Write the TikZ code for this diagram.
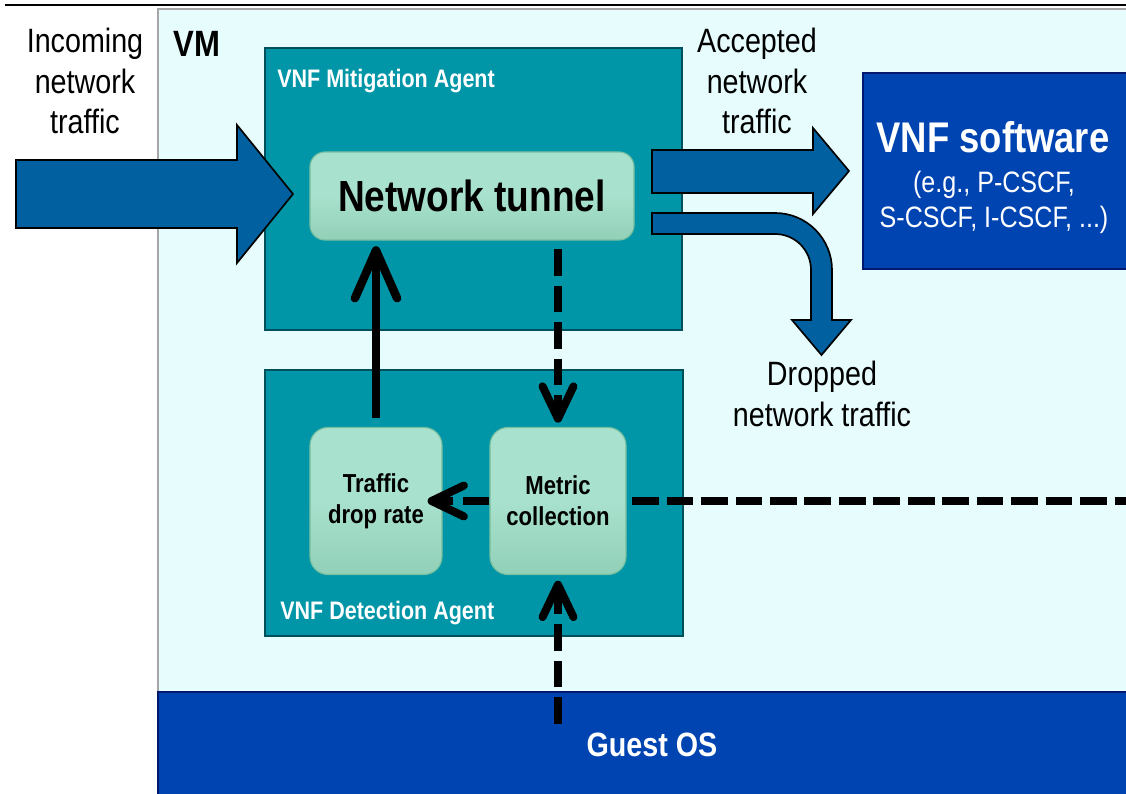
\documentclass[tikz,border=0pt]{standalone}
\usepackage{fontspec}
\setmainfont{Liberation Sans}[FakeStretch=0.85]
\usepackage{tikz}
\usetikzlibrary{arrows.meta,positioning,calc}

\definecolor{vmbg}{RGB}{230,252,253}
\definecolor{agentteal}{RGB}{0,150,167}
\definecolor{agentedge}{RGB}{0,80,92}
\definecolor{mint}{RGB}{168,225,205}
\definecolor{mintdark}{RGB}{146,208,184}
\definecolor{mintedge}{RGB}{120,190,160}
\definecolor{osblue}{RGB}{0,68,178}
\definecolor{osedge}{RGB}{0,25,110}
\definecolor{flowblue}{RGB}{0,96,160}

\begin{document}
\begin{tikzpicture}[x=0.025cm,y=-0.025cm,
    agent/.style={draw=agentedge,line width=1.4pt,fill=agentteal,
      minimum width=10.425cm,minimum height=7.05cm,inner sep=0pt},
    agentlabel/.style={anchor=west,inner sep=0pt,text=white,
      font=\bfseries\fontsize{18}{21}\selectfont},
    tunnelbox/.style={draw=mintedge,line width=0.8pt,rounded corners=0.375cm,
      top color=mint,bottom color=mintdark,middle color=mint,
      minimum width=8.1cm,minimum height=2.2cm,
      font=\bfseries\fontsize{31}{36}\selectfont},
    blockbox/.style={draw=mintedge,line width=0.8pt,rounded corners=0.45cm,
      top color=mint,bottom color=mintdark,middle color=mint,
      minimum height=3.675cm,align=center,inner sep=0pt,
      font=\bfseries\fontsize{18.5}{22}\selectfont},
    osbox/.style={draw=osedge,line width=1.4pt,fill=osblue,text=white,
      font=\bfseries\fontsize{24}{29}\selectfont},
    flow/.style={fill=flowblue,draw=black,line width=1.2pt},
    flowtext/.style={align=center,inner sep=0pt,font=\fontsize{24}{29}\selectfont},
    solidarrow/.style={line width=6pt,
      -{Straight Barb[length=34pt,width=30pt,round]}},
    dasharrow/.style={line width=5.7pt,dash pattern=on 19pt off 7pt,
      -{Straight Barb[length=23pt,width=22pt,round]}},
    dashline/.style={line width=5.7pt,dash pattern=on 19pt off 5.5pt}]
  \path[use as bounding box] (0,0) rectangle (1126,794);
  \clip (0,0) rectangle (1126,794);

  % VM frame
  \fill[vmbg] (158,9) rectangle (1130,797);
  \draw[gray!70,line width=1.4pt] (158,797) -- (158,9) -- (1130,9);
  \draw[line width=1.4pt] (5,5) -- (1130,5);
  \node[anchor=west,inner sep=0pt,font=\bfseries\fontsize{26}{30}\selectfont] (vmlabel) at (173,44) {VM};

  % agents
  \node[agent] (mitig) at (473.5,189) {};
  \node[agent,minimum height=6.65cm] (detect) at (474,503) {};
  \node[agentlabel] (mitiglabel) at (277,81) {VNF Mitigation Agent};
  \node[agentlabel] (detectlabel) at (280,613) {VNF Detection Agent};

  % processing blocks
  \node[tunnelbox] (tunnel) at (472,196) {Network tunnel};
  \node[blockbox,minimum width=3.3cm] (drop) at (376,501) {Traffic\\drop rate};
  \node[blockbox,minimum width=3.4cm] (metric) at (558,501) {Metric\\collection};

  % guest OS and VNF software
  \node[osbox,minimum width=24.7cm,minimum height=2.625cm] (guest) at (652,744.5) {Guest OS};
  \node[osbox,minimum width=6.675cm,minimum height=4.9cm] (vnf) at (996.5,171) {};
  \node[text=white,inner sep=0pt,font=\bfseries\fontsize{30.5}{34}\selectfont] (vnftitle) at (993,137) {VNF software};
  \node[text=white,inner sep=0pt,align=center,font=\fontsize{21}{25}\selectfont] (vnfnote) at (994,202) {(e.g., P-CSCF,\\S-CSCF, I-CSCF, ...)};

  % traffic flows
  \draw[flow] (16,160) -- (237,160) -- (237,125) -- (293,194) -- (237,263) -- (237,228) -- (16,228) -- cycle;
  \draw[flow] (652,150) -- (813,150) -- (813,128) -- (849,171) -- (813,214) -- (813,193) -- (652,193) -- cycle;
  \draw[flow] (652,213) -- (775,213) .. controls (806.5,213) and (832,238.5) .. (832,270)
    -- (832,320) -- (851,320) -- (821.5,355) -- (792,320) -- (811,320) -- (811,270)
    .. controls (811,250) and (795,234) .. (775,234) -- (652,234) -- cycle;
  \node[flowtext] (incoming) at (85,81) {Incoming\\network\\traffic};
  \node[flowtext] (accepted) at (757,81) {Accepted\\network\\traffic};
  \node[flowtext] (dropped) at (822,394) {Dropped\\network traffic};

  % control and metric paths
  \coordinate (rightedge) at (1126,501);
  \coordinate (osport) at (558,724);
  \draw[solidarrow,shorten <=6pt,shorten >=4pt] (drop.north) -- (drop.north |- tunnel.south);
  \draw[dasharrow,shorten <=6pt,shorten >=3pt] (metric.north |- tunnel.south) -- (metric.north);
  \draw[dasharrow] (metric.west) -- ([xshift=-0.375cm]drop.east);
  \draw[dashline,shorten <=4pt] (metric.east) -- (rightedge);
  \draw[dasharrow,shorten >=4pt] (osport) -- (metric.south);
\end{tikzpicture}
\end{document}
